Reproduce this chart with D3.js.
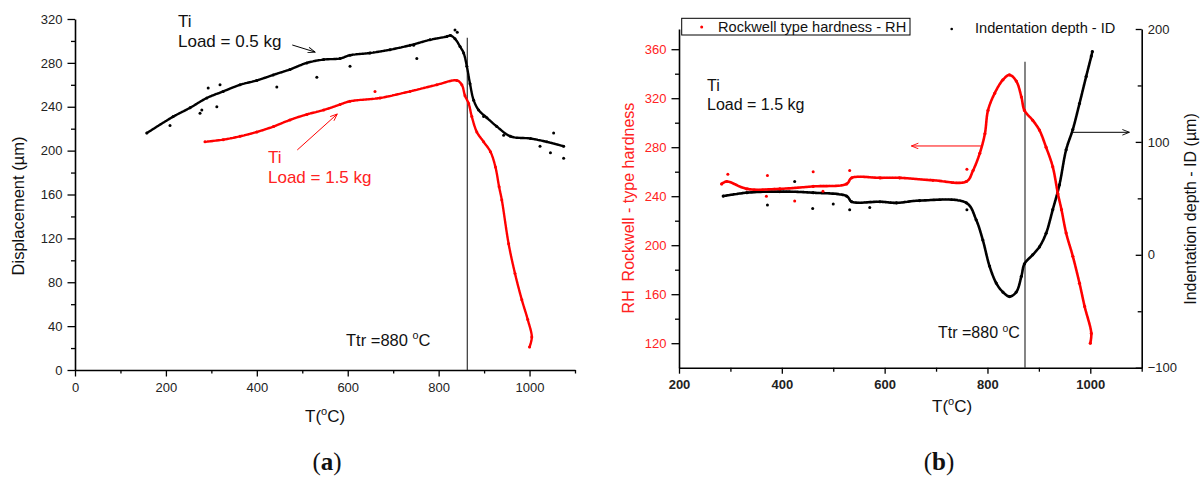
<!DOCTYPE html>
<html>
<head>
<meta charset="utf-8">
<script src="https://cdn.jsdelivr.net/npm/d3@7/dist/d3.min.js"></script>
<style>
  html, body { margin: 0; padding: 0; background: #fff; }
  svg text { font-family: "Liberation Sans", Arial, sans-serif; }
</style>
</head>
<body>
<div id="chart"></div>
<script>
// Panel (a): displacement vs temperature
const A_T_LOW  = [158,216,253,290,326,363,400,436,473,510,547,583,605,649,693,737,781,818,826,836,847,855,862,869,877,888,906,928,958,1002,1038,1075];
const A_D_LOW  = [216,231,239,248,254,260,264,269,274,280,283,284,287,289,292,296,301,304,305,302,295,289,277,261,246,237,230,222,213,211,208,204];
const A_T_HIGH = [286,326,363,400,437,473,510,547,583,605,671,737,796,840,851,858,866,873,884,899,914,925,933,939,954,968,983,996,1005,1000];
const A_D_HIGH = [208,210,213,217,222,228,233,237,242,245,248,254,260,264,260,250,243,231,217,208,199,185,167,155,115,88,64,46,30,21];
// scattered points off the main band
const A_T_LOW_OUT  = [209,275,279,293,312,319,444,532,605,745,752,836,841,899,943,1023,1046,1053,1075];
const A_D_LOW_OUT  = [223,234,237,257,240,260,258,267,277,296,284,310,308,231,214,204,198,216,193];
const A_T_HIGH_OUT = [660];
const A_D_HIGH_OUT = [254];

// Panel (b): hardness (left axis) and indentation depth (right axis)
const B_T_RH = [283,293,332,396,461,526,536,591,629,694,759,772,785,795,801,814,830,843,856,866,872,888,901,914,927,937,944,953,966,979,989,1002,1000];
const B_RH   = [250,252,246,246,248,250,255,255,255,253,252,261,275,291,310,324,335,339,334,321,310,302,294,280,264,242,229,210,191,169,150,128,120];
const B_T_ID = [286,332,396,461,526,536,591,623,668,759,778,791,804,817,830,843,856,866,872,888,901,914,927,940,953,966,979,992,1002,1004];
const B_ID   = [52,55,56,55,52,47,47,46,48,46,31,13,-10,-25,-33,-37,-33,-19,-8,0,7,19,40,62,93,111,134,158,176,180];
const B_T_RH_OUT = [295,370,372,425,461,480,532,760];
const B_RH_OUT   = [258,240,257,236,260,244,261,262];
const B_T_ID_OUT = [372,425,460,500,532,571,760];
const B_ID_OUT   = [44,65,41,45,40,42,40];

// Ticks
const A_X_MAJOR = [0,200,400,600,800,1000];
const A_X_MINOR = [100,300,500,700,900,1100];
const A_Y_MAJOR = [0,40,80,120,160,200,240,280,320];
const A_Y_MINOR = [20,60,100,140,180,220,260,300];
const B_X_MAJOR = [200,400,600,800,1000];
const B_X_MINOR = [300,500,700,900,1100];
const B_YL_MAJOR = [120,160,200,240,280,320,360];
const B_YL_MINOR = [140,180,220,260,300,340];
const B_YR_MAJOR = [-100,0,100,200];
const B_YR_MINOR = [-50,50,150];

const T_TR_A = 863, T_TR_B = 873;
const RED = "#ff0000", TXT_RED = "#ff2222";
const fmt = d3.format("d");

const W = 1201, H = 480;
const svg = d3.select("#chart").append("svg").attr("width", W).attr("height", H);
svg.append("rect").attr("width", W).attr("height", H).attr("fill", "#fff");

const defs = svg.append("defs");
[["arrBlack","#000"],["arrRed",RED]].forEach(([id,c]) => {
  defs.append("marker").attr("id", id).attr("viewBox","0 0 10 10").attr("refX",10).attr("refY",5)
    .attr("markerWidth",9).attr("markerHeight",7).attr("orient","auto").attr("markerUnits","userSpaceOnUse")
    .append("path").attr("d","M0,1 L10,5 L0,9").attr("fill","none").attr("stroke",c).attr("stroke-width",1.3);
});

const zip = (ts, vs) => ts.map((t,i) => [t, vs[i]]);

function styleAxis(g, opts = {}) {
  g.select(".domain").attr("stroke","#000").attr("stroke-width",1.6);
  g.selectAll(".tick line").attr("stroke","#000").attr("stroke-width",1.3);
  g.selectAll(".tick text").attr("font-size",13).attr("fill", opts.color || "#222")
    .attr("font-weight", opts.bold ? 700 : 400).attr("font-family", "'Liberation Sans', Arial, sans-serif");
}
function minor(g) { g.select(".domain").remove(); g.selectAll(".tick line").attr("stroke","#000").attr("stroke-width",1.3); }

function series(g, x, y, pts, color, width) {
  const line = d3.line().x(d => x(d[0])).y(d => y(d[1])).curve(d3.curveCatmullRom.alpha(0.5));
  g.append("path").attr("d", line(pts)).attr("fill","none").attr("stroke",color)
    .attr("stroke-width",width).attr("stroke-linecap","round").attr("stroke-linejoin","round")
    .attr("stroke-dasharray","2.2,0.7");
  g.selectAll(null).data(pts).join("circle").attr("cx", d => x(d[0])).attr("cy", d => y(d[1]))
    .attr("r", width/2 + 0.3).attr("fill", color);
}
function scatter(g, x, y, pts, color) {
  g.selectAll(null).data(pts).join("circle").attr("cx", d => x(d[0])).attr("cy", d => y(d[1]))
    .attr("r", 1.5).attr("fill", color);
}
function supText(g, x, y, pre, post, size, color, anchor) {
  const t = g.append("text").attr("x",x).attr("y",y).attr("font-size",size).attr("fill",color||"#111")
    .attr("text-anchor", anchor || "start").style("white-space","pre");
  t.append("tspan").text(pre);
  t.append("tspan").attr("font-size", size*0.65).attr("dy", -size*0.4).text("o");
  t.append("tspan").attr("dy", size*0.4).text(post);
  return t;
}
function panelTag(g, x, letter) {
  const t = g.append("text").attr("x",x).attr("y",470).attr("text-anchor","middle").attr("font-size",25)
    .style("font-family","'Liberation Serif', 'DejaVu Serif', serif").attr("fill","#111");
  t.append("tspan").text("(");
  t.append("tspan").attr("font-weight",700).text(letter);
  t.append("tspan").text(")");
}

// ---------- Panel (a) ----------
const xa = d3.scaleLinear().domain([0,1100]).range([75,575]);
const ya = d3.scaleLinear().domain([0,320]).range([370,19]);
const ga = svg.append("g");

ga.append("g").attr("transform","translate(0,370)").call(d3.axisBottom(xa).tickValues(A_X_MINOR).tickSize(3.5).tickFormat("")).call(minor);
ga.append("g").attr("transform","translate(75,0)").call(d3.axisLeft(ya).tickValues(A_Y_MINOR).tickSize(4).tickFormat("")).call(minor);
ga.append("g").attr("transform","translate(0,370)")
  .call(d3.axisBottom(xa).tickValues(A_X_MAJOR).tickFormat(fmt).tickSize(6.5).tickSizeOuter(0).tickPadding(6.5)).call(styleAxis);
ga.append("g").attr("transform","translate(75,0)")
  .call(d3.axisLeft(ya).tickValues(A_Y_MAJOR).tickFormat(fmt).tickSize(7.5).tickSizeOuter(0).tickPadding(5)).call(styleAxis);

ga.append("line").attr("x1", xa(T_TR_A)).attr("x2", xa(T_TR_A)).attr("y1", ya(303)).attr("y2", ya(0))
  .attr("stroke","#222").attr("stroke-width",1.1);

series(ga, xa, ya, zip(A_T_LOW, A_D_LOW), "#000", 2.4);
scatter(ga, xa, ya, zip(A_T_LOW_OUT, A_D_LOW_OUT), "#000");
series(ga, xa, ya, zip(A_T_HIGH, A_D_HIGH), RED, 2.4);
scatter(ga, xa, ya, zip(A_T_HIGH_OUT, A_D_HIGH_OUT), RED);

ga.append("text").attr("x",178).attr("y",27).attr("font-size",17).attr("fill","#111").text("Ti");
ga.append("text").attr("x",178).attr("y",47).attr("font-size",17).attr("fill","#111").text("Load = 0.5 kg");
ga.append("line").attr("x1", xa(478)).attr("y1", ya(296.3)).attr("x2", xa(528)).attr("y2", ya(289.9))
  .attr("stroke","#000").attr("stroke-width",1).attr("marker-end","url(#arrBlack)");
ga.append("text").attr("x",268).attr("y",163).attr("font-size",17).attr("fill",TXT_RED).text("Ti");
ga.append("text").attr("x",268).attr("y",183).attr("font-size",17).attr("fill",TXT_RED).text("Load = 1.5 kg");
ga.append("line").attr("x1", xa(489)).attr("y1", ya(200.6)).attr("x2", xa(577)).attr("y2", ya(233.4))
  .attr("stroke",RED).attr("stroke-width",1).attr("marker-end","url(#arrRed)");

supText(ga, 346, 346, "Ttr =880 ", "C", 16.5);
supText(ga, 305, 422, "T(", "C)", 17);
ga.append("text").attr("transform","translate(24,206) rotate(-90)").attr("text-anchor","middle")
  .attr("font-size",16.5).attr("fill","#111").text("Displacement (\u00b5m)");
panelTag(ga, 327, "a");

// ---------- Panel (b) ----------
const xb  = d3.scaleLinear().domain([200,1100]).range([679,1141.7]);
const ybl = d3.scaleLinear().domain([100,376.5]).range([367.7,29]);
const ybr = d3.scaleLinear().domain([-100,200]).range([367.7,29]);
const gb = svg.append("g");

gb.append("g").attr("transform","translate(0,367.7)").call(d3.axisBottom(xb).tickValues(B_X_MINOR).tickSize(4).tickFormat("")).call(minor);
gb.append("g").attr("transform","translate(679,0)").call(d3.axisLeft(ybl).tickValues(B_YL_MINOR).tickSize(4).tickFormat("")).call(minor);
gb.append("g").attr("transform","translate(1141.7,0)").call(d3.axisRight(ybr).tickValues(B_YR_MINOR).tickSize(-4).tickFormat("")).call(minor);
gb.append("g").attr("transform","translate(0,367.7)")
  .call(d3.axisBottom(xb).tickValues(B_X_MAJOR).tickFormat(fmt).tickSize(6).tickSizeOuter(0).tickPadding(6)).call(g => styleAxis(g, {bold:true}));
gb.append("g").attr("transform","translate(679,0)")
  .call(d3.axisLeft(ybl).tickValues(B_YL_MAJOR).tickFormat(fmt).tickSize(7.5).tickSizeOuter(0).tickPadding(5)).call(g => styleAxis(g, {color:TXT_RED}));
gb.append("g").attr("transform","translate(1141.7,0)")
  .call(d3.axisRight(ybr).tickValues(B_YR_MAJOR).tickFormat(fmt).tickSize(-6).tickSizeOuter(0).tickPadding(6)).call(styleAxis);

gb.append("line").attr("x1", xb(T_TR_B)).attr("x2", xb(T_TR_B)).attr("y1", ybl(349.8)).attr("y2", ybl(100))
  .attr("stroke","#222").attr("stroke-width",1.1);

series(gb, xb, ybr, zip(B_T_ID, B_ID), "#000", 2.6);
scatter(gb, xb, ybr, zip(B_T_ID_OUT, B_ID_OUT), "#000");
series(gb, xb, ybl, zip(B_T_RH, B_RH), RED, 2.6);
scatter(gb, xb, ybl, zip(B_T_RH_OUT, B_RH_OUT), RED);

// legend
gb.append("rect").attr("x",681.7).attr("y",18.3).attr("width",228.3).attr("height",16.7)
  .attr("fill","#fff").attr("stroke","#000").attr("stroke-width",1);
gb.append("circle").attr("cx",701.7).attr("cy",27).attr("r",1.5).attr("fill",RED);
gb.append("text").attr("x",718).attr("y",32).attr("font-size",14.6).attr("fill","#111").text("Rockwell type hardness - RH");
gb.append("circle").attr("cx",951.7).attr("cy",29).attr("r",1.3).attr("fill","#000");
gb.append("text").attr("x",975).attr("y",33).attr("font-size",14.6).attr("fill","#111").text("Indentation depth - ID");

gb.append("text").attr("x",707).attr("y",91).attr("font-size",16).attr("fill","#111").text("Ti");
gb.append("text").attr("x",707).attr("y",110).attr("font-size",16).attr("fill","#111").text("Load = 1.5 kg");

gb.append("line").attr("x1", xb(788)).attr("y1", ybl(281)).attr("x2", xb(652)).attr("y2", ybl(281))
  .attr("stroke",RED).attr("stroke-width",1).attr("marker-end","url(#arrRed)");
gb.append("line").attr("x1", xb(965.5)).attr("y1", ybr(108.5)).attr("x2", xb(1076)).attr("y2", ybr(108.5))
  .attr("stroke","#000").attr("stroke-width",1).attr("marker-end","url(#arrBlack)");

supText(gb, 938, 338, "Ttr =880 ", "C", 16);
supText(gb, 932, 412, "T(", "C)", 17);
gb.append("text").attr("transform","translate(634,208) rotate(-90)").attr("text-anchor","middle")
  .attr("font-size",16).attr("fill",TXT_RED).style("white-space","pre").text("RH  Rockwell - type hardness");
gb.append("text").attr("transform","translate(1196,209) rotate(-90)").attr("text-anchor","middle")
  .attr("font-size",16).attr("fill","#111").text("Indentation depth - ID (\u00b5m)");
panelTag(gb, 939, "b");
</script>
</body>
</html>
